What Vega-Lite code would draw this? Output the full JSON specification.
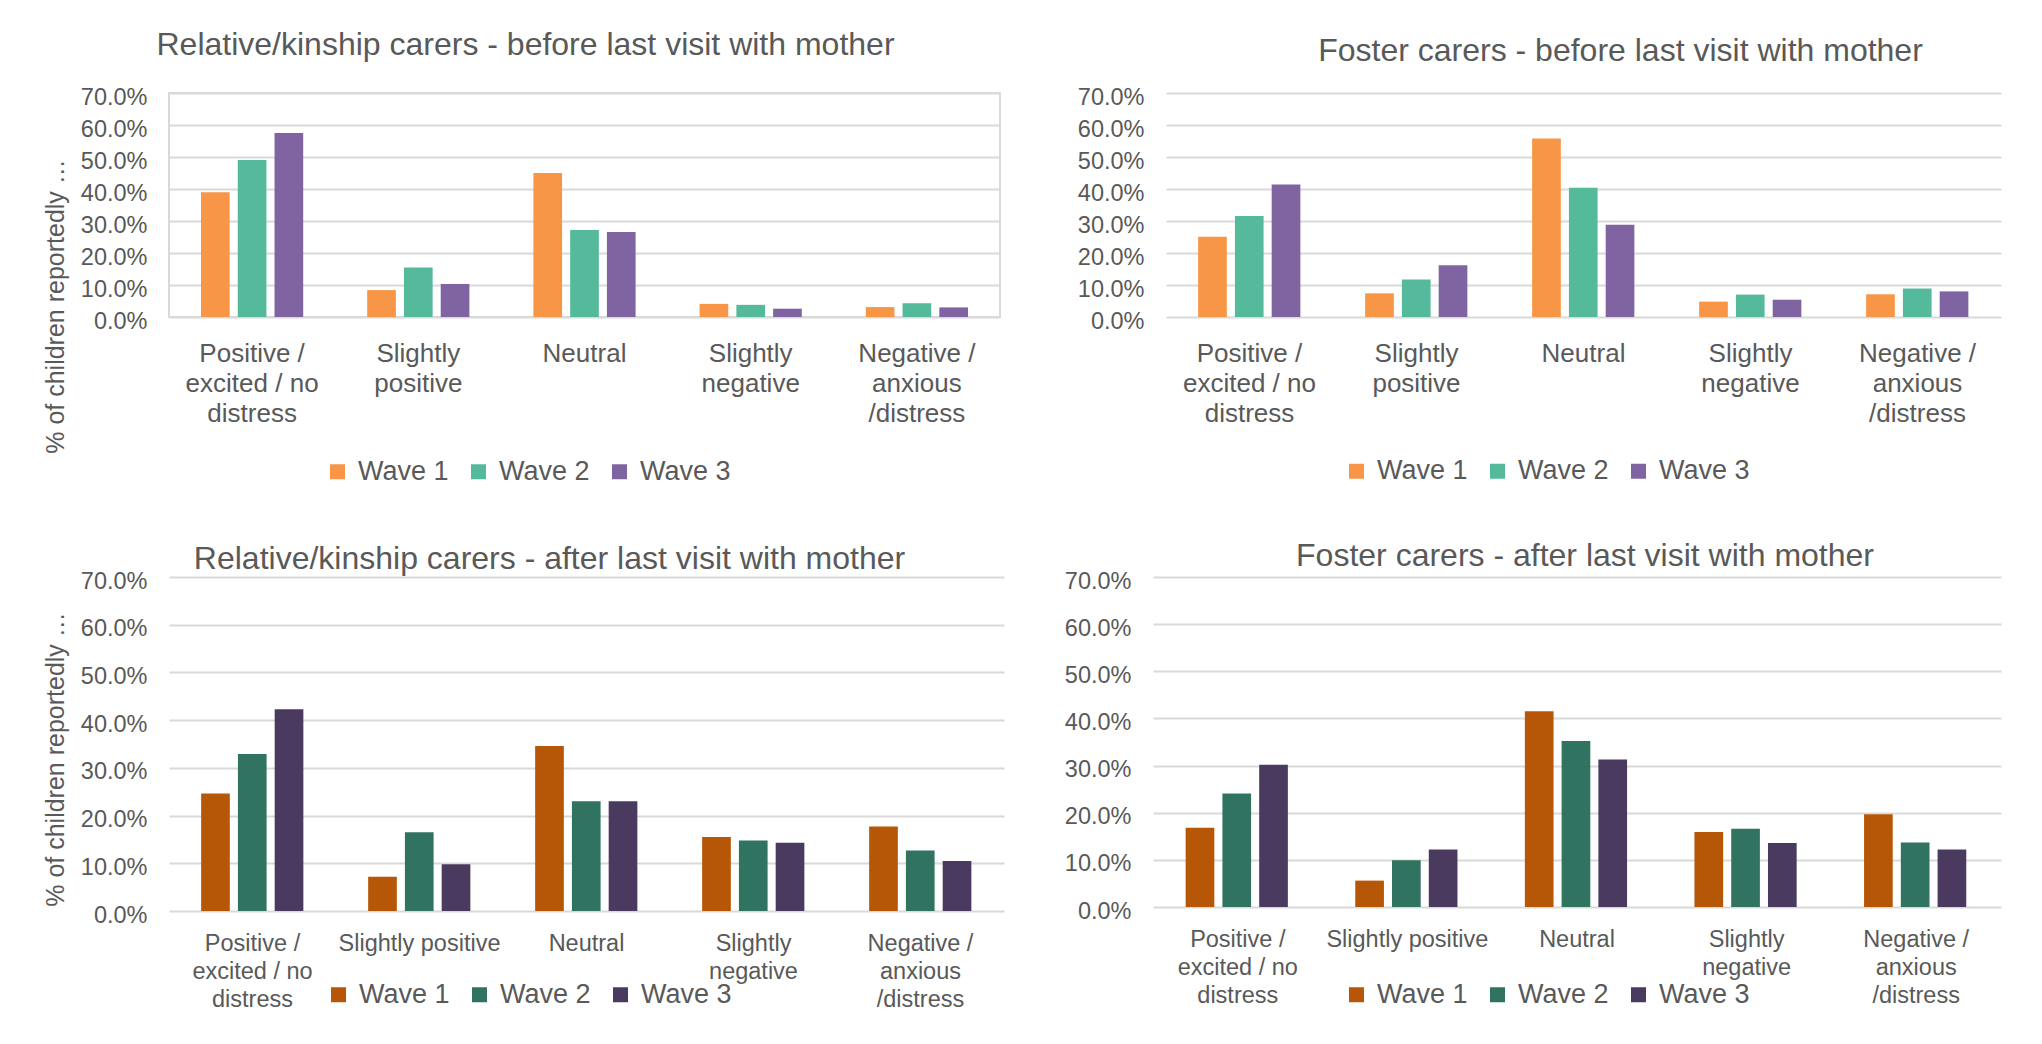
{
  "$schema": "https://vega.github.io/schema/vega-lite/v6.json",
  "padding": {"left": 42, "top": 28, "right": 5, "bottom": 5},
  "background": "white",
  "config": {
    "font": "Liberation Sans",
    "view": {"stroke": null},
    "axis": {
      "labelFont": "Liberation Sans",
      "labelColor": "#595959",
      "titleFont": "Liberation Sans",
      "titleColor": "#595959",
      "titleFontWeight": "normal",
      "domain": false,
      "ticks": false,
      "tickSize": 0,
      "gridColor": "#D9D9D9",
      "gridWidth": 2
    },
    "axisX": {"grid": false, "labelAngle": 0, "labelBaseline": "top", "labelLimit": 400},
    "axisY": {"grid": true, "labelFontSize": 23.5, "labelPadding": 22, "labelOffset": 4},
    "title": {"font": "Liberation Sans", "fontSize": 32, "fontWeight": "normal", "color": "#595959", "baseline": "alphabetic"},
    "legend": {
      "symbolType": "square",
      "symbolSize": 225,
      "symbolStrokeWidth": 0,
      "labelFont": "Liberation Sans",
      "labelFontSize": 27,
      "labelColor": "#595959",
      "labelOffset": 7,
      "columnPadding": 16,
      "padding": 0,
      "labelLimit": 400
    }
  },
  "data": {
    "values": [
      {"panel": "TL", "category": "Positive / excited / no distress", "wave": "Wave 1", "value": 0.390},
      {"panel": "TL", "category": "Positive / excited / no distress", "wave": "Wave 2", "value": 0.491},
      {"panel": "TL", "category": "Positive / excited / no distress", "wave": "Wave 3", "value": 0.575},
      {"panel": "TL", "category": "Slightly positive", "wave": "Wave 1", "value": 0.084},
      {"panel": "TL", "category": "Slightly positive", "wave": "Wave 2", "value": 0.155},
      {"panel": "TL", "category": "Slightly positive", "wave": "Wave 3", "value": 0.103},
      {"panel": "TL", "category": "Neutral", "wave": "Wave 1", "value": 0.450},
      {"panel": "TL", "category": "Neutral", "wave": "Wave 2", "value": 0.272},
      {"panel": "TL", "category": "Neutral", "wave": "Wave 3", "value": 0.266},
      {"panel": "TL", "category": "Slightly negative", "wave": "Wave 1", "value": 0.041},
      {"panel": "TL", "category": "Slightly negative", "wave": "Wave 2", "value": 0.038},
      {"panel": "TL", "category": "Slightly negative", "wave": "Wave 3", "value": 0.026},
      {"panel": "TL", "category": "Negative / anxious /distress", "wave": "Wave 1", "value": 0.031},
      {"panel": "TL", "category": "Negative / anxious /distress", "wave": "Wave 2", "value": 0.043},
      {"panel": "TL", "category": "Negative / anxious /distress", "wave": "Wave 3", "value": 0.030},
      {"panel": "TR", "category": "Positive / excited / no distress", "wave": "Wave 1", "value": 0.251},
      {"panel": "TR", "category": "Positive / excited / no distress", "wave": "Wave 2", "value": 0.316},
      {"panel": "TR", "category": "Positive / excited / no distress", "wave": "Wave 3", "value": 0.414},
      {"panel": "TR", "category": "Slightly positive", "wave": "Wave 1", "value": 0.074},
      {"panel": "TR", "category": "Slightly positive", "wave": "Wave 2", "value": 0.117},
      {"panel": "TR", "category": "Slightly positive", "wave": "Wave 3", "value": 0.162},
      {"panel": "TR", "category": "Neutral", "wave": "Wave 1", "value": 0.558},
      {"panel": "TR", "category": "Neutral", "wave": "Wave 2", "value": 0.404},
      {"panel": "TR", "category": "Neutral", "wave": "Wave 3", "value": 0.288},
      {"panel": "TR", "category": "Slightly negative", "wave": "Wave 1", "value": 0.048},
      {"panel": "TR", "category": "Slightly negative", "wave": "Wave 2", "value": 0.070},
      {"panel": "TR", "category": "Slightly negative", "wave": "Wave 3", "value": 0.054},
      {"panel": "TR", "category": "Negative / anxious /distress", "wave": "Wave 1", "value": 0.071},
      {"panel": "TR", "category": "Negative / anxious /distress", "wave": "Wave 2", "value": 0.089},
      {"panel": "TR", "category": "Negative / anxious /distress", "wave": "Wave 3", "value": 0.080},
      {"panel": "BL", "category": "Positive / excited / no distress", "wave": "Wave 1", "value": 0.246},
      {"panel": "BL", "category": "Positive / excited / no distress", "wave": "Wave 2", "value": 0.329},
      {"panel": "BL", "category": "Positive / excited / no distress", "wave": "Wave 3", "value": 0.423},
      {"panel": "BL", "category": "Slightly positive", "wave": "Wave 1", "value": 0.072},
      {"panel": "BL", "category": "Slightly positive", "wave": "Wave 2", "value": 0.165},
      {"panel": "BL", "category": "Slightly positive", "wave": "Wave 3", "value": 0.098},
      {"panel": "BL", "category": "Neutral", "wave": "Wave 1", "value": 0.346},
      {"panel": "BL", "category": "Neutral", "wave": "Wave 2", "value": 0.230},
      {"panel": "BL", "category": "Neutral", "wave": "Wave 3", "value": 0.230},
      {"panel": "BL", "category": "Slightly negative", "wave": "Wave 1", "value": 0.155},
      {"panel": "BL", "category": "Slightly negative", "wave": "Wave 2", "value": 0.148},
      {"panel": "BL", "category": "Slightly negative", "wave": "Wave 3", "value": 0.143},
      {"panel": "BL", "category": "Negative / anxious /distress", "wave": "Wave 1", "value": 0.177},
      {"panel": "BL", "category": "Negative / anxious /distress", "wave": "Wave 2", "value": 0.127},
      {"panel": "BL", "category": "Negative / anxious /distress", "wave": "Wave 3", "value": 0.105},
      {"panel": "BR", "category": "Positive / excited / no distress", "wave": "Wave 1", "value": 0.168},
      {"panel": "BR", "category": "Positive / excited / no distress", "wave": "Wave 2", "value": 0.241},
      {"panel": "BR", "category": "Positive / excited / no distress", "wave": "Wave 3", "value": 0.302},
      {"panel": "BR", "category": "Slightly positive", "wave": "Wave 1", "value": 0.056},
      {"panel": "BR", "category": "Slightly positive", "wave": "Wave 2", "value": 0.099},
      {"panel": "BR", "category": "Slightly positive", "wave": "Wave 3", "value": 0.122},
      {"panel": "BR", "category": "Neutral", "wave": "Wave 1", "value": 0.415},
      {"panel": "BR", "category": "Neutral", "wave": "Wave 2", "value": 0.352},
      {"panel": "BR", "category": "Neutral", "wave": "Wave 3", "value": 0.313},
      {"panel": "BR", "category": "Slightly negative", "wave": "Wave 1", "value": 0.159},
      {"panel": "BR", "category": "Slightly negative", "wave": "Wave 2", "value": 0.166},
      {"panel": "BR", "category": "Slightly negative", "wave": "Wave 3", "value": 0.136},
      {"panel": "BR", "category": "Negative / anxious /distress", "wave": "Wave 1", "value": 0.197},
      {"panel": "BR", "category": "Negative / anxious /distress", "wave": "Wave 2", "value": 0.137},
      {"panel": "BR", "category": "Negative / anxious /distress", "wave": "Wave 3", "value": 0.122}
    ]
  },
  "resolve": {"scale": {"color": "independent"}, "legend": {"color": "independent"}},
  "spacing": 54,
  "vconcat": [
    {
      "hconcat": [
        {
          "width": 831,
          "height": 224,
          "view": {"stroke": "#D9D9D9", "strokeWidth": 2},
          "title": {"text": "Relative/kinship carers - before last visit with mother", "dx": -59, "offset": 23},
          "transform": [{"filter": {"field": "panel", "equal": "TL"}}],
          "mark": {"type": "bar"},
          "encoding": {
            "x": {
              "field": "category", "type": "nominal", "title": null,
              "sort": ["Positive / excited / no distress", "Slightly positive", "Neutral", "Slightly negative", "Negative / anxious /distress"],
              "scale": {"paddingInner": 0.385, "paddingOuter": 0.1925},
              "axis": {
                "labelFontSize": 26, "labelLineHeight": 30, "labelPadding": 23,
                "labelExpr": "datum.value == 'Positive / excited / no distress' ? ['Positive /', 'excited / no', 'distress'] : datum.value == 'Slightly positive' ? ['Slightly', 'positive'] : datum.value == 'Slightly negative' ? ['Slightly', 'negative'] : datum.value == 'Negative / anxious /distress' ? ['Negative /', 'anxious', '/distress'] : datum.value"
              }
            },
            "xOffset": {"field": "wave", "type": "nominal", "scale": {"paddingInner": 0.22, "paddingOuter": 0}},
            "y": {
              "field": "value", "type": "quantitative",
              "scale": {"domain": [0, 0.7], "nice": false},
              "axis": {"values": [0, 0.1, 0.2, 0.3, 0.4, 0.5, 0.6, 0.7], "format": ".1%", "title": "% of children reportedly  …", "titleFontSize": 25, "titleX": -114, "titleY": 213, "titleAngle": 270, "titleAlign": "center", "titleBaseline": "middle"}
            },
            "color": {
              "field": "wave", "type": "nominal",
              "scale": {"domain": ["Wave 1", "Wave 2", "Wave 3"], "range": ["#F79646", "#55BA9B", "#8064A2"]},
              "legend": {"orient": "none", "direction": "horizontal", "legendX": 155, "legendY": 365, "title": null}
            }
          }
        },
        {
          "width": 835,
          "height": 224,
          "title": {"text": "Foster carers - before last visit with mother", "dx": 37, "offset": 17.5},
          "transform": [{"filter": {"field": "panel", "equal": "TR"}}],
          "mark": {"type": "bar"},
          "encoding": {
            "x": {
              "field": "category", "type": "nominal", "title": null,
              "sort": ["Positive / excited / no distress", "Slightly positive", "Neutral", "Slightly negative", "Negative / anxious /distress"],
              "scale": {"paddingInner": 0.385, "paddingOuter": 0.1925},
              "axis": {
                "labelFontSize": 26, "labelLineHeight": 30, "labelPadding": 23,
                "labelExpr": "datum.value == 'Positive / excited / no distress' ? ['Positive /', 'excited / no', 'distress'] : datum.value == 'Slightly positive' ? ['Slightly', 'positive'] : datum.value == 'Slightly negative' ? ['Slightly', 'negative'] : datum.value == 'Negative / anxious /distress' ? ['Negative /', 'anxious', '/distress'] : datum.value"
              }
            },
            "xOffset": {"field": "wave", "type": "nominal", "scale": {"paddingInner": 0.22, "paddingOuter": 0}},
            "y": {
              "field": "value", "type": "quantitative",
              "scale": {"domain": [0, 0.7], "nice": false},
              "axis": {"values": [0, 0.1, 0.2, 0.3, 0.4, 0.5, 0.6, 0.7], "format": ".1%", "title": null}
            },
            "color": {
              "field": "wave", "type": "nominal",
              "scale": {"domain": ["Wave 1", "Wave 2", "Wave 3"], "range": ["#F79646", "#55BA9B", "#8064A2"]},
              "legend": {"orient": "none", "direction": "horizontal", "legendX": 177, "legendY": 364.5, "title": null}
            }
          }
        }
      ],
      "spacing": 166,
      "bounds": "flush",
      "resolve": {"scale": {"color": "independent"}, "legend": {"color": "independent"}}
    },
    {
      "hconcat": [
        {
          "width": 835,
          "height": 334,
          "title": {"text": "Relative/kinship carers - after last visit with mother", "dx": -37, "offset": -7},
          "transform": [{"filter": {"field": "panel", "equal": "BL"}}],
          "mark": {"type": "bar"},
          "encoding": {
            "x": {
              "field": "category", "type": "nominal", "title": null,
              "sort": ["Positive / excited / no distress", "Slightly positive", "Neutral", "Slightly negative", "Negative / anxious /distress"],
              "scale": {"paddingInner": 0.385, "paddingOuter": 0.1925},
              "axis": {
                "labelFontSize": 23.5, "labelLineHeight": 28, "labelPadding": 20,
                "labelExpr": "datum.value == 'Positive / excited / no distress' ? ['Positive /', 'excited / no', 'distress'] : datum.value == 'Slightly negative' ? ['Slightly', 'negative'] : datum.value == 'Negative / anxious /distress' ? ['Negative /', 'anxious', '/distress'] : datum.value"
              }
            },
            "xOffset": {"field": "wave", "type": "nominal", "scale": {"paddingInner": 0.22, "paddingOuter": 0}},
            "y": {
              "field": "value", "type": "quantitative",
              "scale": {"domain": [0, 0.7], "nice": false},
              "axis": {"values": [0, 0.1, 0.2, 0.3, 0.4, 0.5, 0.6, 0.7], "format": ".1%", "title": "% of children reportedly  …", "titleFontSize": 25, "titleX": -114, "titleY": 182, "titleAngle": 270, "titleAlign": "center", "titleBaseline": "middle"}
            },
            "color": {
              "field": "wave", "type": "nominal",
              "scale": {"domain": ["Wave 1", "Wave 2", "Wave 3"], "range": ["#B65708", "#307360", "#4B3A60"]},
              "legend": {"orient": "none", "direction": "horizontal", "legendX": 156, "legendY": 404, "title": null}
            }
          }
        },
        {
          "width": 848,
          "height": 330,
          "title": {"text": "Foster carers - after last visit with mother", "dx": 8, "offset": -4},
          "transform": [{"filter": {"field": "panel", "equal": "BR"}}],
          "mark": {"type": "bar"},
          "encoding": {
            "x": {
              "field": "category", "type": "nominal", "title": null,
              "sort": ["Positive / excited / no distress", "Slightly positive", "Neutral", "Slightly negative", "Negative / anxious /distress"],
              "scale": {"paddingInner": 0.385, "paddingOuter": 0.1925},
              "axis": {
                "labelFontSize": 23.5, "labelLineHeight": 28, "labelPadding": 20,
                "labelExpr": "datum.value == 'Positive / excited / no distress' ? ['Positive /', 'excited / no', 'distress'] : datum.value == 'Slightly negative' ? ['Slightly', 'negative'] : datum.value == 'Negative / anxious /distress' ? ['Negative /', 'anxious', '/distress'] : datum.value"
              }
            },
            "xOffset": {"field": "wave", "type": "nominal", "scale": {"paddingInner": 0.22, "paddingOuter": 0}},
            "y": {
              "field": "value", "type": "quantitative",
              "scale": {"domain": [0, 0.7], "nice": false},
              "axis": {"values": [0, 0.1, 0.2, 0.3, 0.4, 0.5, 0.6, 0.7], "format": ".1%", "title": null}
            },
            "color": {
              "field": "wave", "type": "nominal",
              "scale": {"domain": ["Wave 1", "Wave 2", "Wave 3"], "range": ["#B65708", "#307360", "#4B3A60"]},
              "legend": {"orient": "none", "direction": "horizontal", "legendX": 190, "legendY": 404, "title": null}
            }
          }
        }
      ],
      "spacing": 60,
      "resolve": {"scale": {"color": "independent"}, "legend": {"color": "independent"}}
    }
  ]
}
